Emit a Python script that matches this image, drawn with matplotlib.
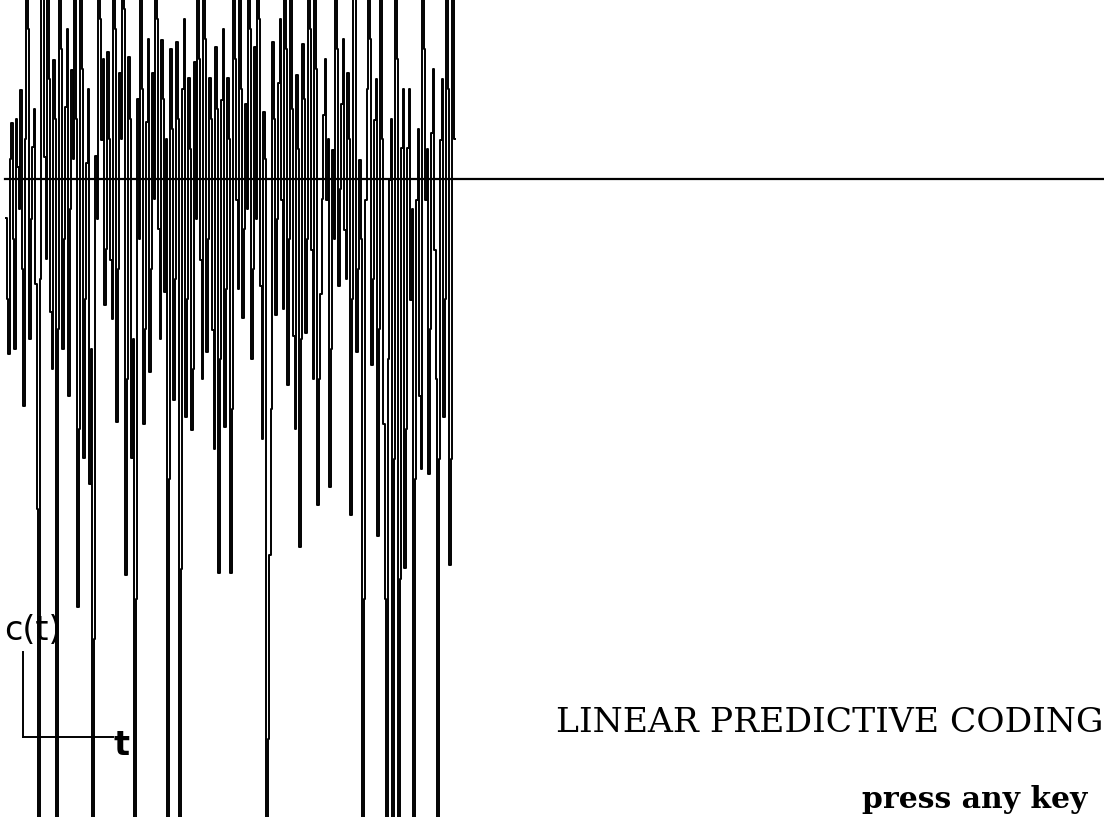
import numpy as np
import matplotlib
matplotlib.use("Agg")
import matplotlib.pyplot as plt
from matplotlib.lines import Line2D

W, H = 1104, 817          # canvas in pixels
BASE = 179                # screen row of the zero line

# residual signal c(t) in screen units above the zero line,
# stored as the even- and odd-indexed samples
c_even = [
    -39, -175, 56, -170, 12, 89, -227, 260, -160, 32,
    -105, -721, 300, 22, 245, -133, 119, -700, 280, -170,
    72, -217, 109, 250, -428, 209, -279, 16, -305, -740,
    23, 270, 39, -126, 127, -81, 240, -243, 106, 290,
    -396, 122, -279, -710, 80, 260, -245, 57, -193, 106,
    275, -50, 139, -113, -730, 130, -221, 137, -705, 90,
    -238, 101, -251, 117, 255, -81, 300, -173, 101, -151,
    132, -394, 79, -248, 101, -394, 265, -21, 240, -139,
    75, 285, -180, 132, 250, -107, 67, -720, -376, 137,
    -136, 96, -21, 270, -206, 245, -157, 104, -368, 135,
    -154, 280, -71, 255, -326, -115, 64, -21, -308, 29,
    260, -107, 75, -51, 106, -336, 290, -173, 19, -735,
    -21, 250, -186, 59, -357, 270, -245, -715, -1, -725,
    240, -740, 31, -389, 31, -121, -700, -21, -217, 265,
    -21, -295, 46, -71, -730, 39, -238, 280, -386, 250,
]
c_odd = [
    -120, 20, -60, 60, -30, -90, 40, 150, -40, 70,
    -330, -100, 200, -80, 100, -190, 60, -150, 130, -60,
    150, -30, 20, 60, -250, 110, -120, 90, -170, -460,
    -40, 160, 120, -70, 40, -140, 150, -90, 40, 170,
    -200, 60, -160, -420, -60, 90, -150, 140, -90, -20,
    160, -160, 80, 40, -300, 50, -100, 60, -390, 160,
    -120, 30, -190, -40, 120, -200, 140, -60, 60, -270,
    70, -180, 150, -110, 40, -230, 120, -110, 90, -50,
    -30, 150, -90, -40, 160, -260, 20, -560, -230, 60,
    -40, 160, -130, 130, -60, 70, -250, 30, -160, 80,
    -60, 150, -200, 110, -200, -20, 120, 40, -170, -60,
    130, -10, 140, -100, 40, -120, 180, -90, -60, -420,
    90, 140, -100, 100, -150, 40, -420, -180, 60, -280,
    120, -400, 90, -250, 90, -30, -300, 50, -290, 130,
    30, -150, 110, -200, -280, 100, -120, 90, -280, 40,
]

TITLE = "LINEAR PREDICTIVE CODING"
PROMPT = "press any key"

c_t = np.column_stack([c_even, c_odd]).ravel()

fig = plt.figure(figsize=(W / 100, H / 100), dpi=100)
fig.patch.set_facecolor("white")
ax = fig.add_axes([0, 0, 1, 1])
ax.set_axis_off()

# one sample every 1.5 screen pixels, first sample at x=6
n = np.arange(len(c_t))
ax.plot(n, c_t, drawstyle="steps-mid", color="black", lw=1.4)
ax.set_xlim(-4, (W - 6) / 1.5)
ax.set_ylim(-(H - BASE), BASE)
ax.axhline(0, xmin=5 / W, xmax=1, color="black", lw=1.6)


def fp(x, y):
    return x / W, 1 - y / H


# little axis key in the lower left
(x0, y0), (x1, y1) = fp(23, 652), fp(23, 737)
fig.add_artist(Line2D([x0, x1], [y0, y1], color="black", lw=1.4))
(x0, y0), (x1, y1) = fp(23, 737), fp(113, 737)
fig.add_artist(Line2D([x0, x1], [y0, y1], color="black", lw=1.4))
fig.text(*fp(4, 640), "c(t)", fontsize=24, family="DejaVu Sans",
         ha="left", va="baseline")
fig.text(*fp(114, 755), "t", fontsize=24, family="DejaVu Sans",
         fontweight="bold", ha="left", va="baseline")

fig.text(*fp(556, 732), TITLE, fontsize=24.8, family="DejaVu Serif",
         ha="left", va="baseline")
fig.text(*fp(862, 808), PROMPT, fontsize=21.5, family="DejaVu Serif",
         fontweight="bold", ha="left", va="baseline")

fig.savefig("out.png", dpi=100)
